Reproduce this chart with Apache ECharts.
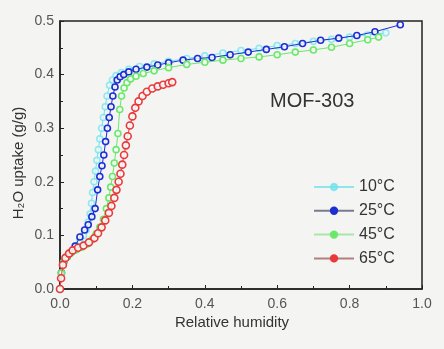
<!DOCTYPE html>
<html>
<head>
<meta charset="utf-8">
<script src="https://cdn.jsdelivr.net/npm/echarts@6/dist/echarts.min.js"></script>
<style>html,body{margin:0;padding:0;background:#f4f4f3;}#c{width:444px;height:349px;}</style>
</head>
<body>
<div id="c"></div>
<script>
var xTicks = [0, 0.2, 0.4, 0.6, 0.8, 1.0];
var yTicks = [0, 0.1, 0.2, 0.3, 0.4, 0.5];
var seriesNames = ['10°C', '25°C', '45°C', '65°C'];

var rh10 = [0, 0.004, 0.01, 0.02, 0.03, 0.042, 0.055, 0.065, 0.072, 0.078, 0.083, 0.087, 0.09, 0.094, 0.098, 0.102, 0.106, 0.11, 0.115, 0.12, 0.125, 0.13, 0.137, 0.145, 0.155, 0.17, 0.19, 0.22, 0.26, 0.3, 0.35, 0.4, 0.45, 0.5, 0.55, 0.6, 0.65, 0.7, 0.75, 0.8, 0.85, 0.9];
var up10 = [0, 0.03, 0.05, 0.06, 0.068, 0.08, 0.09, 0.1, 0.11, 0.125, 0.14, 0.16, 0.18, 0.2, 0.22, 0.24, 0.26, 0.28, 0.3, 0.32, 0.34, 0.36, 0.38, 0.39, 0.398, 0.404, 0.41, 0.415, 0.42, 0.425, 0.43, 0.435, 0.44, 0.445, 0.449, 0.454, 0.458, 0.462, 0.466, 0.47, 0.474, 0.478];

var rh25 = [0, 0.004, 0.01, 0.02, 0.03, 0.042, 0.055, 0.068, 0.078, 0.088, 0.097, 0.104, 0.11, 0.116, 0.121, 0.126, 0.131, 0.136, 0.141, 0.146, 0.152, 0.158, 0.166, 0.176, 0.19, 0.21, 0.24, 0.27, 0.3, 0.34, 0.38, 0.42, 0.47, 0.52, 0.57, 0.62, 0.67, 0.72, 0.77, 0.82, 0.87, 0.94];
var up25 = [0, 0.03, 0.05, 0.06, 0.068, 0.08, 0.097, 0.11, 0.12, 0.135, 0.15, 0.185, 0.21, 0.23, 0.25, 0.275, 0.3, 0.32, 0.34, 0.36, 0.377, 0.39, 0.396, 0.4, 0.405, 0.41, 0.414, 0.418, 0.422, 0.427, 0.43, 0.432, 0.437, 0.442, 0.447, 0.452, 0.458, 0.464, 0.468, 0.473, 0.48, 0.493];

var rh45 = [0, 0.004, 0.01, 0.02, 0.03, 0.045, 0.06, 0.075, 0.088, 0.1, 0.11, 0.12, 0.128, 0.135, 0.14, 0.145, 0.15, 0.155, 0.16, 0.165, 0.17, 0.177, 0.185, 0.195, 0.21, 0.23, 0.26, 0.3, 0.35, 0.4, 0.45, 0.5, 0.55, 0.6, 0.65, 0.7, 0.75, 0.8, 0.85, 0.88];
var up45 = [0, 0.03, 0.05, 0.06, 0.067, 0.073, 0.078, 0.084, 0.092, 0.103, 0.115, 0.13, 0.15, 0.17, 0.19, 0.21, 0.235, 0.26, 0.29, 0.335, 0.36, 0.375, 0.385, 0.392, 0.397, 0.402, 0.407, 0.413, 0.419, 0.423, 0.427, 0.43, 0.433, 0.437, 0.442, 0.446, 0.451, 0.458, 0.465, 0.47];

var rh65 = [0, 0.003, 0.008, 0.015, 0.025, 0.035, 0.05, 0.065, 0.08, 0.095, 0.105, 0.115, 0.125, 0.135, 0.142, 0.15, 0.156, 0.162, 0.167, 0.172, 0.177, 0.182, 0.187, 0.193, 0.2, 0.208, 0.217, 0.228, 0.24, 0.255, 0.27, 0.285, 0.3, 0.31];
var up65 = [0, 0.02, 0.045, 0.058, 0.066, 0.072, 0.077, 0.081, 0.087, 0.095, 0.104, 0.115, 0.128, 0.142, 0.155, 0.17, 0.185, 0.2, 0.215, 0.232, 0.25, 0.268, 0.285, 0.305, 0.322, 0.338, 0.35, 0.36, 0.368, 0.374, 0.378, 0.381, 0.384, 0.386];

var colors = ['#6fe3ec', '#1c2fd2', '#6be86a', '#e83a3a'];
var legendLineColors = ['#8fe6ea', '#7a7a90', '#a6e8a6', '#b08080'];
function pairs(a, b) { return a.map(function (v, i) { return [v, b[i]]; }); }
var datasets = [pairs(rh10, up10), pairs(rh25, up25), pairs(rh45, up45), pairs(rh65, up65)];

var chart = echarts.init(document.getElementById('c'), null, { renderer: 'canvas' });
var font = 'Liberation Sans, Arial, sans-serif';
chart.setOption({
  backgroundColor: '#f4f4f3',
  animation: false,
  grid: { left: 60, right: 22, top: 21, bottom: 60, show: true, borderColor: '#222', borderWidth: 1.5, backgroundColor: 'transparent' },
  xAxis: {
    type: 'value', min: xTicks[0], max: xTicks[xTicks.length - 1], interval: 0.2,
    axisLine: { lineStyle: { color: '#222', width: 1.5 } },
    axisTick: { inside: true, length: 4, lineStyle: { color: '#222' } },
    minorTick: { show: true, splitNumber: 2, length: 3, lineStyle: { color: '#222' } },
    splitLine: { show: false },
    axisLabel: { fontFamily: font, fontSize: 14, color: '#555', margin: 8, formatter: function (v) { return v.toFixed(1); } }
  },
  yAxis: {
    type: 'value', min: yTicks[0], max: yTicks[yTicks.length - 1], interval: 0.1,
    axisLine: { lineStyle: { color: '#222', width: 1.5 } },
    axisTick: { inside: true, length: 4, lineStyle: { color: '#222' } },
    minorTick: { show: true, splitNumber: 2, length: 3, lineStyle: { color: '#222' } },
    splitLine: { show: false },
    axisLabel: { fontFamily: font, fontSize: 14, color: '#555', margin: 6, formatter: function (v) { return v.toFixed(1); } }
  },
  legend: {
    orient: 'vertical', left: 308, top: 172, itemWidth: 40, itemHeight: 8, itemGap: 3.8,
    textStyle: { fontFamily: font, fontSize: 16, color: '#333', lineHeight: 20 },
    data: seriesNames.map(function (n, i) {
      return { name: n, itemStyle: { color: colors[i], borderColor: colors[i] }, lineStyle: { color: legendLineColors[i] } };
    })
  },
  graphic: [
    { type: 'text', left: 270, top: 91, style: { text: 'MOF-303', fontFamily: font, fontSize: 20, fill: '#333' } },
    { type: 'text', x: 232, y: 323, style: { text: 'Relative humidity', fontFamily: font, fontSize: 15, fill: '#333', align: 'center', verticalAlign: 'middle' } },
    { type: 'text', x: 19, y: 163, rotation: Math.PI / 2, style: { text: 'H\u2082O uptake (g/g)', fontFamily: font, fontSize: 15, fill: '#333', align: 'center', verticalAlign: 'middle' } }
  ],
  series: seriesNames.map(function (n, i) {
    return {
      name: n, type: 'line', data: datasets[i],
      symbol: 'circle', symbolSize: i === 3 ? 7 : 6,
      lineStyle: { width: 1, color: colors[i] },
      itemStyle: { color: 'rgba(250,250,250,0.85)', borderColor: colors[i], borderWidth: 1.6, opacity: i === 0 ? 0.75 : 1 },
      z: 2 + i
    };
  })
});
</script>
</body>
</html>
